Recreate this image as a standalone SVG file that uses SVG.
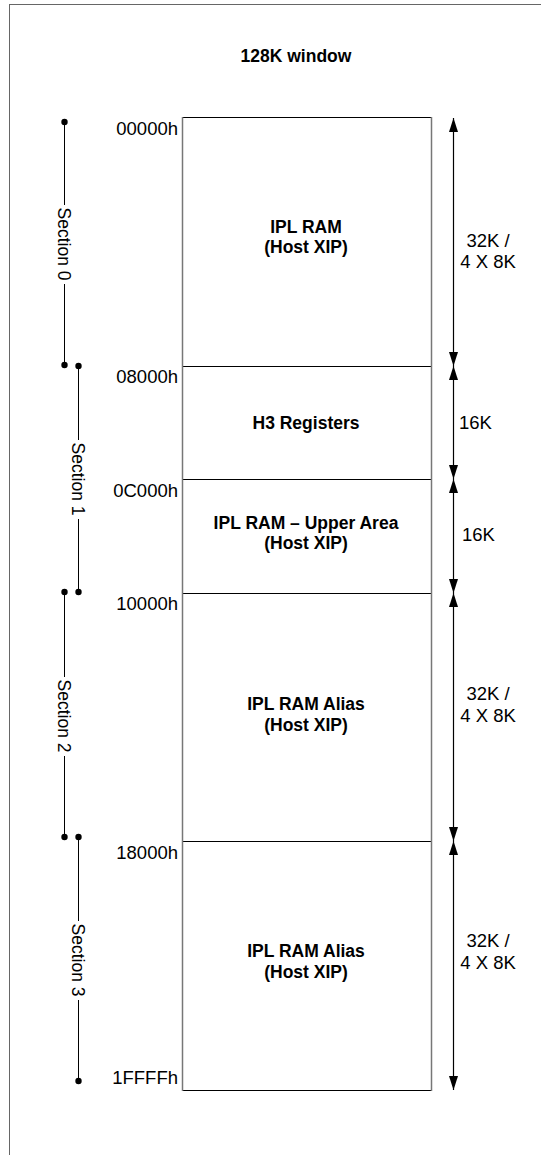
<svg xmlns="http://www.w3.org/2000/svg" width="541" height="1155" viewBox="0 0 541 1155">
<style>
.t{font-family:"Liberation Sans",Arial,sans-serif;font-size:18.5px;fill:#000}
.b{font-family:"Liberation Sans",Arial,sans-serif;font-size:17.5px;font-weight:bold;fill:#000;text-anchor:middle}
.s{font-family:"Liberation Sans",Arial,sans-serif;font-size:17.5px;fill:#000;text-anchor:middle}
.a{text-anchor:end}
.m{text-anchor:middle}
.ln{stroke:#000;stroke-width:1;fill:none}
.side{stroke:#777;stroke-width:1.5;fill:none}
.dim{stroke:#000;stroke-width:1.2;fill:none;marker-start:url(#ah);marker-end:url(#ah)}
</style>
<defs>
<marker id="ah" viewBox="0 0 14 9" refX="14" refY="4.5" markerWidth="14" markerHeight="9" markerUnits="userSpaceOnUse" orient="auto-start-reverse">
<path d="M0,0 L14,4.5 L0,9 Z" fill="#000"/>
</marker>
<circle id="dot" r="3.2" fill="#000"/>
</defs>
<rect x="9.5" y="4.5" width="600" height="1170" fill="#fff" stroke="#666" stroke-width="1"/>
<text class="b" x="296" y="62">128K window</text>

<g id="mem-0">
<text class="b" x="306" y="233">IPL RAM</text>
<text class="b" x="306" y="253">(Host XIP)</text>
</g>
<g id="mem-1">
<text class="b" x="306" y="429">H3 Registers</text>
</g>
<g id="mem-2">
<text class="b" x="306" y="529">IPL RAM – Upper Area</text>
<text class="b" x="306" y="549">(Host XIP)</text>
</g>
<g id="mem-3">
<text class="b" x="306" y="710">IPL RAM Alias</text>
<text class="b" x="306" y="731">(Host XIP)</text>
</g>
<g id="mem-4">
<text class="b" x="306" y="957">IPL RAM Alias</text>
<text class="b" x="306" y="978">(Host XIP)</text>
</g>
<g id="box-lines">
<line class="ln" x1="182.5" y1="117.5" x2="431.5" y2="117.5"/>
<line class="ln" x1="182.5" y1="366.5" x2="431.5" y2="366.5"/>
<line class="ln" x1="182.5" y1="479.5" x2="431.5" y2="479.5"/>
<line class="ln" x1="182.5" y1="593.5" x2="431.5" y2="593.5"/>
<line class="ln" x1="182.5" y1="841.5" x2="431.5" y2="841.5"/>
<line class="ln" x1="182.5" y1="1090.5" x2="431.5" y2="1090.5"/>
<line class="side" x1="182.5" y1="117" x2="182.5" y2="1091"/>
<line class="side" x1="431.5" y1="117" x2="431.5" y2="1091"/>
</g>

<g id="addresses">
<text class="t a" x="178" y="135">00000h</text>
<text class="t a" x="178" y="383">08000h</text>
<text class="t a" x="178" y="497">0C000h</text>
<text class="t a" x="178" y="610">10000h</text>
<text class="t a" x="178" y="859">18000h</text>
<text class="t a" x="178" y="1084">1FFFFh</text>
</g>

<g id="connectors">
<line class="dim" x1="453.5" y1="118" x2="453.5" y2="366"/>
<line class="dim" x1="453.5" y1="366" x2="453.5" y2="479"/>
<line class="dim" x1="453.5" y1="479" x2="453.5" y2="593"/>
<line class="dim" x1="453.5" y1="593" x2="453.5" y2="841"/>
<line class="dim" x1="453.5" y1="841" x2="453.5" y2="1090"/>
<line class="ln" x1="64.5" y1="122" x2="64.5" y2="205"/>
<line class="ln" x1="64.5" y1="284" x2="64.5" y2="365"/>
<line class="ln" x1="78.5" y1="366" x2="78.5" y2="440"/>
<line class="ln" x1="78.5" y1="519" x2="78.5" y2="592"/>
<line class="ln" x1="64.5" y1="592" x2="64.5" y2="677"/>
<line class="ln" x1="64.5" y1="756" x2="64.5" y2="837"/>
<line class="ln" x1="78.5" y1="837" x2="78.5" y2="921"/>
<line class="ln" x1="78.5" y1="1000" x2="78.5" y2="1081"/>
<use href="#dot" x="64.5" y="122"/>
<use href="#dot" x="64.5" y="365"/>
<use href="#dot" x="78.5" y="366"/>
<use href="#dot" x="78.5" y="592"/>
<use href="#dot" x="64.5" y="592"/>
<use href="#dot" x="64.5" y="837"/>
<use href="#dot" x="78.5" y="837"/>
<use href="#dot" x="78.5" y="1081"/>
</g>

<g id="sizes">
<text class="t m" x="488" y="247">32K /</text>
<text class="t m" x="488" y="268">4 X 8K</text>
<text class="t" x="459" y="429">16K</text>
<text class="t" x="462" y="541">16K</text>
<text class="t m" x="488" y="700">32K /</text>
<text class="t m" x="488" y="722">4 X 8K</text>
<text class="t m" x="488" y="947">32K /</text>
<text class="t m" x="488" y="969">4 X 8K</text>
</g>

<g id="sections">
<text class="s" transform="translate(58,244) rotate(90)">Section 0</text>
<text class="s" transform="translate(72,479) rotate(90)">Section 1</text>
<text class="s" transform="translate(58,716) rotate(90)">Section 2</text>
<text class="s" transform="translate(72,960) rotate(90)">Section 3</text>
</g>
</svg>
